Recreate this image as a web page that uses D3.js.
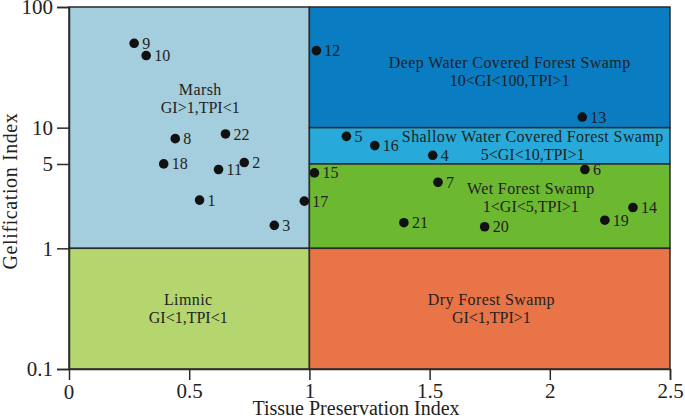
<!DOCTYPE html>
<html><head><meta charset="utf-8">
<script src="https://cdn.jsdelivr.net/npm/d3@7"></script>
<style>body{margin:0;background:#fff}svg{display:block}</style>
</head><body>
<svg id="chart" width="685" height="418"></svg>
<script>
// ---- data ----
const sampleIds = ["1","2","3","4","5","6","7","8","9","10","11","12","13","14","15","16","17","18","19","20","21","22"];
const tpiValues = [0.543,0.729,0.854,1.513,1.154,2.146,1.535,0.442,0.271,0.321,0.622,1.029,2.135,2.346,1.021,1.272,0.979,0.394,2.229,1.729,1.393,0.651];
const giValues  = [2.51,5.14,1.55,5.90,8.47,4.50,3.53,8.11,50.0,39.6,4.50,43.5,12.25,2.18,4.22,7.10,2.46,5.01,1.71,1.51,1.63,8.87];

const regionNames = ["Marsh","Deep Water Covered Forest Swamp","Shallow Water Covered Forest Swamp","Wet Forest Swamp","Limnic","Dry Forest Swamp"];
const regionRules = ["GI>1,TPI<1","10<GI<100,TPI>1","5<GI<10,TPI>1","1<GI<5,TPI>1","GI<1,TPI<1","GI<1,TPI>1"];
const regionTpiMin = [0,1,1,1,0,1];
const regionTpiMax = [1,2.5,2.5,2.5,1,2.5];
const regionGiMin  = [1,10,5,1,0.1,0.1];
const regionGiMax  = [100,100,10,5,1,1];
const regionLabelTpi = [0.546,1.833,1.929,1.921,0.496,1.757];
const regionLabelGi  = [17.4,29.3,7.17,2.64,0.316,0.319];

const xTicks = [0.5,1,1.5,2,2.5];
const xTickLabels = ["0.5","1","1.5","2","2.5"];
const yTicks = [100,10,5,1,0.1];
const yTickLabels = ["100","10","5","1","0.1"];

// ---- styles ----
const regionColors = ["#a4cedd","#0a7cc2","#27a9da","#6cb931","#b5d66f","#e87448"];
const font = "'Liberation Serif','Times New Roman',serif";

const svg = d3.select("#chart");
const x = d3.scaleLinear().domain([0,2.5]).range([69,670]);
const y = d3.scaleLog().domain([0.1,100]).range([369,7]);

// regions
const regions = regionNames.map((n,i)=>({n,i}));
svg.selectAll("rect.region").data(regions).join("rect")
  .attr("class","region")
  .attr("x",d=>x(regionTpiMin[d.i]))
  .attr("y",d=>y(regionGiMax[d.i]))
  .attr("width",d=>x(regionTpiMax[d.i])-x(regionTpiMin[d.i]))
  .attr("height",d=>y(regionGiMin[d.i])-y(regionGiMax[d.i]))
  .attr("fill",d=>regionColors[d.i])
  .attr("stroke","#2a2a2a").attr("stroke-width",1.5);

// region labels
const rl = svg.selectAll("text.rlab").data(regions).join("text")
  .attr("class","rlab")
  .attr("x",d=>x(regionLabelTpi[d.i]))
  .attr("y",d=>y(regionLabelGi[d.i]))
  .attr("text-anchor","middle")
  .attr("font-family",font).attr("font-size",16).attr("fill","#222");
rl.append("tspan").attr("x",d=>x(regionLabelTpi[d.i])).attr("dy",-3.5).text(d=>d.n).attr("letter-spacing",0.4);
rl.append("tspan").attr("x",d=>x(regionLabelTpi[d.i])).attr("dy",18).text(d=>regionRules[d.i]);

// axes
const xAxis = d3.axisBottom(x).tickValues(xTicks).tickFormat((d,i)=>xTickLabels[i]).tickSize(11).tickPadding(3);
const gx = svg.append("g").attr("transform","translate(0,369)").call(xAxis);
gx.select(".domain").attr("stroke","#2a2a2a").attr("stroke-width",1.5);
gx.selectAll(".tick line").attr("stroke","#2a2a2a").attr("stroke-width",1.5);
gx.selectAll(".tick text").attr("font-family",font).attr("font-size",21).attr("fill","#222");
svg.append("text").attr("x",x(0)).attr("y",392).attr("dy","0.32em").attr("text-anchor","middle")
  .attr("font-family",font).attr("font-size",21).attr("fill","#222").text("0");

const yAxis = d3.axisLeft(y).tickValues(yTicks).tickFormat((d,i)=>yTickLabels[i]).tickSize(12).tickPadding(4);
const gy = svg.append("g").attr("transform","translate(69,0)").call(yAxis);
gy.select(".domain").attr("stroke","#2a2a2a").attr("stroke-width",1.5);
gy.selectAll(".tick line").attr("stroke","#2a2a2a").attr("stroke-width",1.5);
gy.selectAll(".tick text").attr("font-family",font).attr("font-size",21).attr("fill","#222");

// axis titles
svg.append("text").attr("x",356).attr("y",415).attr("text-anchor","middle")
  .attr("font-family",font).attr("font-size",20).attr("fill","#222").text("Tissue Preservation Index");
svg.append("text").attr("transform","translate(17,191) rotate(-90)").attr("text-anchor","middle")
  .attr("font-family",font).attr("font-size",20).attr("letter-spacing",0.6).attr("fill","#222").text("Gelification Index");

// points
const pts = sampleIds.map((id,i)=>({id,tpi:tpiValues[i],gi:giValues[i]}));
svg.selectAll("circle.pt").data(pts).join("circle")
  .attr("class","pt").attr("cx",d=>x(d.tpi)).attr("cy",d=>y(d.gi)).attr("r",4.8).attr("fill","#111");
svg.selectAll("text.plab").data(pts).join("text")
  .attr("class","plab").attr("x",d=>x(d.tpi)+8).attr("y",d=>y(d.gi)).attr("dy","0.35em")
  .attr("font-family",font).attr("font-size",16).attr("fill","#222").text(d=>d.id);
</script>
</body></html>
